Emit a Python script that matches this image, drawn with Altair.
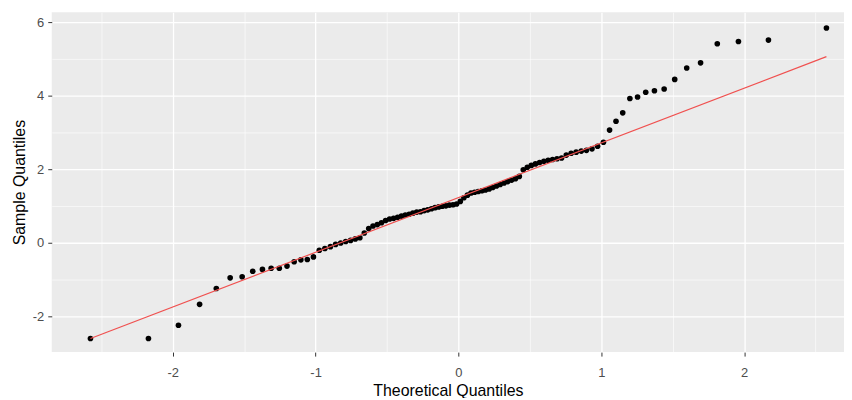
import altair as alt
import pandas as pd

# Theoretical normal quantiles (x positions of the 100 points)
theoretical_q = [
    -2.576, -2.170, -1.960, -1.812, -1.695, -1.598, -1.514, -1.440, -1.372, -1.311,
    -1.254, -1.200, -1.150, -1.103, -1.058, -1.015, -0.974, -0.935, -0.896, -0.860,
    -0.824, -0.789, -0.755, -0.722, -0.690, -0.659, -0.628, -0.598, -0.568, -0.539,
    -0.510, -0.482, -0.454, -0.426, -0.399, -0.372, -0.345, -0.319, -0.292, -0.266,
    -0.240, -0.215, -0.189, -0.164, -0.138, -0.113, -0.088, -0.063, -0.038, -0.013,
    0.013, 0.038, 0.063, 0.088, 0.113, 0.138, 0.164, 0.189, 0.215, 0.240,
    0.266, 0.292, 0.319, 0.345, 0.372, 0.399, 0.426, 0.454, 0.482, 0.510,
    0.539, 0.568, 0.598, 0.628, 0.659, 0.690, 0.722, 0.755, 0.789, 0.824,
    0.860, 0.896, 0.935, 0.974, 1.015, 1.058, 1.103, 1.150, 1.200, 1.254,
    1.311, 1.372, 1.440, 1.514, 1.598, 1.695, 1.812, 1.960, 2.170, 2.576,
]

# Sample quantiles (sorted sample values)
sample_q = [
    -2.61, -2.61, -2.25, -1.68, -1.25, -0.96, -0.93, -0.78, -0.73, -0.70,
    -0.70, -0.64, -0.52, -0.47, -0.46, -0.39, -0.21, -0.16, -0.11, -0.05,
    -0.01, 0.03, 0.06, 0.10, 0.13, 0.26, 0.38, 0.45, 0.49, 0.54,
    0.60, 0.64, 0.66, 0.69, 0.72, 0.75, 0.77, 0.80, 0.83, 0.84,
    0.87, 0.89, 0.92, 0.95, 0.97, 0.99, 1.00, 1.02, 1.03, 1.05,
    1.12, 1.22, 1.29, 1.35, 1.37, 1.39, 1.41, 1.43, 1.46, 1.50,
    1.54, 1.58, 1.62, 1.66, 1.70, 1.74, 1.80, 1.98, 2.05, 2.10,
    2.14, 2.18, 2.21, 2.24, 2.26, 2.28, 2.30, 2.38, 2.43, 2.46,
    2.49, 2.51, 2.55, 2.62, 2.73, 3.06, 3.30, 3.53, 3.92, 3.96,
    4.09, 4.13, 4.18, 4.44, 4.75, 4.89, 5.41, 5.47, 5.51, 5.84,
]

# Reference (qq) line end points
line_q = [-2.576, 2.576]
line_s = [-2.61, 5.06]

x_ticks = [-2.5, -2, -1.5, -1, -0.5, 0, 0.5, 1, 1.5, 2, 2.5]
y_ticks = [-2, -1, 0, 1, 2, 3, 4, 5, 6]

pts = pd.DataFrame({"q": theoretical_q, "s": sample_q})
line_df = pd.DataFrame({"q": line_q, "s": line_s})

FONT = "Liberation Sans"

x_scale = alt.Scale(domain=[-2.847, 2.699], nice=False, zero=False)
y_scale = alt.Scale(domain=[-2.98, 6.27], nice=False, zero=False)

x_axis = alt.Axis(
    values=x_ticks,
    title="Theoretical Quantiles",
    labelExpr="datum.value % 1 === 0 ? '' + datum.value : ''",
    gridColor="white",
    gridWidth={"condition": {"test": "datum.value % 1 !== 0", "value": 0.6}, "value": 1.3},
    tickOpacity={"condition": {"test": "datum.value % 1 !== 0", "value": 0}, "value": 1},
    tickColor="#333333",
    tickSize=4,
    domain=False,
    labelFont=FONT,
    labelFontSize=13,
    labelColor="#4D4D4D",
    labelPadding=11,
    labelFlush=False,
    titleFont=FONT,
    titleFontSize=16,
    titleFontWeight="normal",
    titleColor="#000000",
    titlePadding=3,
)

y_axis = alt.Axis(
    values=y_ticks,
    title="Sample Quantiles",
    labelExpr="datum.value % 2 === 0 ? '' + datum.value : ''",
    gridColor="white",
    gridWidth={"condition": {"test": "datum.value % 2 !== 0", "value": 0.6}, "value": 1.3},
    tickOpacity={"condition": {"test": "datum.value % 2 !== 0", "value": 0}, "value": 1},
    tickColor="#333333",
    tickSize=4,
    domain=False,
    labelFont=FONT,
    labelFontSize=13,
    labelColor="#4D4D4D",
    labelPadding=4,
    labelFlush=False,
    titleFont=FONT,
    titleFontSize=16,
    titleFontWeight="normal",
    titleColor="#000000",
    titlePadding=5,
)

points = alt.Chart(pts).mark_circle(size=32, color="black", opacity=1).encode(
    x=alt.X("q:Q", scale=x_scale, axis=x_axis),
    y=alt.Y("s:Q", scale=y_scale, axis=y_axis),
)

qqline = alt.Chart(line_df).mark_line(color="#F0504F", strokeWidth=1.2).encode(
    x=alt.X("q:Q", scale=x_scale),
    y=alt.Y("s:Q", scale=y_scale),
)

chart = (
    alt.layer(points, qqline)
    .properties(
        width=797,
        height=342,
        autosize=alt.AutoSizeParams(type="none"),
        padding={"left": 44, "top": 3, "right": 0, "bottom": 45},
        background="white",
    )
    .configure_view(fill="#EBEBEB", strokeWidth=0)
)

chart.save("out.html", embed_options={"renderer": "svg", "actions": False})
